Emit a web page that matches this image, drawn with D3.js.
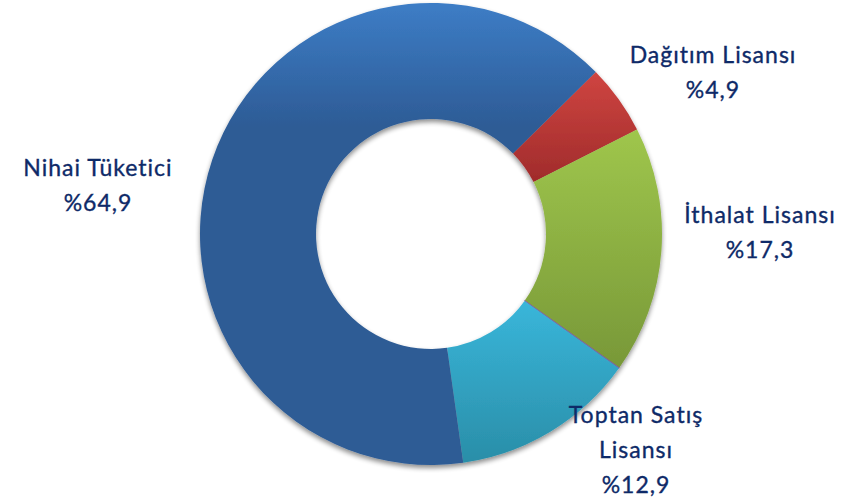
<!DOCTYPE html>
<html>
<head>
<meta charset="utf-8">
<script src="https://cdn.jsdelivr.net/npm/d3@7"></script>
<style>
  body { margin: 0; background: #fff; }
  svg { display: block; }
</style>
</head>
<body>
<svg id="chart" width="845" height="503"></svg>
<script>
// Daten
var kategorien = ["Dağıtım Lisansı", "İthalat Lisansı", "Diğer", "Toptan Satış Lisansı", "Nihai Tüketici"];
var werte = [4.9, 17.3, 0.05, 12.9, 64.9];
var etiketten = ["%4,9", "%17,3", "", "%12,9", "%64,9"];

// Farben (oben hell, unten dunkel)
var farbenOben = ["#cf4541", "#9fc64c", "#8a6db0", "#39b6da", "#3d7dc6"];
var farbenUnten = ["#a02b2b", "#789838", "#6d5490", "#2a8ea8", "#2d5b95"];
var farbStop = [1, 1, 1, 1, 0.27];

// Beschriftung: Zeilen und Lage
var zeilen = [["Dağıtım Lisansı"], ["İthalat Lisansı"], [], ["Toptan Satış", "Lisansı"], ["Nihai Tüketici"]];
var beschriftungPos = [[713, 63], [760, 223], null, [636, 423], [98, 176]];

var svg = d3.select("#chart");
var cx = 431, cy = 234, rAussen = 231, rInnen = 115;

var defs = svg.append("defs");

// Schatten
var filter = defs.append("filter").attr("id", "schatten")
  .attr("x", "-10%").attr("y", "-10%").attr("width", "120%").attr("height", "120%");
filter.append("feGaussianBlur").attr("in", "SourceAlpha").attr("stdDeviation", 2.5);
filter.append("feOffset").attr("dx", 0).attr("dy", 3).attr("result", "off");
filter.append("feComponentTransfer").append("feFuncA").attr("type", "linear").attr("slope", 0.45);
var merge = filter.append("feMerge");
merge.append("feMergeNode");
merge.append("feMergeNode").attr("in", "SourceGraphic");

werte.forEach(function(w, i) {
  var g = defs.append("linearGradient").attr("id", "grad" + i)
    .attr("x1", 0).attr("y1", 0).attr("x2", 0).attr("y2", 1);
  g.append("stop").attr("offset", 0).attr("stop-color", farbenOben[i]);
  g.append("stop").attr("offset", farbStop[i]).attr("stop-color", farbenUnten[i]);
  if (farbStop[i] < 1) g.append("stop").attr("offset", 1).attr("stop-color", farbenUnten[i]);
});

var start = 45.5 * Math.PI / 180;
var pie = d3.pie().sort(null).value(function(d) { return d; })
  .startAngle(start).endAngle(start + 2 * Math.PI);
var arc = d3.arc().innerRadius(rInnen).outerRadius(rAussen);

var ring = svg.append("g")
  .attr("transform", "translate(" + cx + "," + cy + ")")
  .attr("filter", "url(#schatten)");

ring.selectAll("path")
  .data(pie(werte))
  .enter().append("path")
  .attr("d", arc)
  .attr("fill", function(d, i) { return "url(#grad" + i + ")"; })
  .attr("stroke", function(d, i) { return i === 2 ? "#7d60a0" : "none"; })
  .attr("stroke-width", 0.8);

// Beschriftungen
var zeilenAbstand = 35;
var texte = svg.append("g")
  .style("font-family", "Lato, 'Open Sans', sans-serif")
  .style("font-size", "23px")
  .style("letter-spacing", "1px")
  .attr("fill", "#0e2a68")
  .attr("stroke", "#0e2a68")
  .attr("stroke-width", 0.35)
  .attr("text-anchor", "middle");

kategorien.forEach(function(k, i) {
  if (!beschriftungPos[i]) return;
  var t = texte.append("text")
    .attr("x", beschriftungPos[i][0])
    .attr("y", beschriftungPos[i][1]);
  var linien = zeilen[i].concat([etiketten[i]]);
  linien.forEach(function(l, j) {
    t.append("tspan")
      .attr("x", beschriftungPos[i][0])
      .attr("dy", j === 0 ? 0 : zeilenAbstand)
      .text(l);
  });
});
</script>
</body>
</html>
